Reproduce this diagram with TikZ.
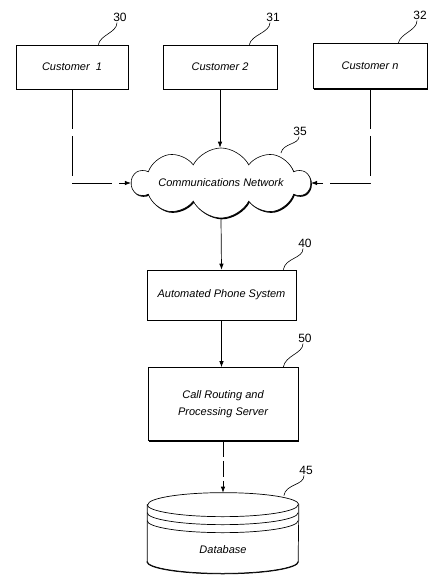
\documentclass[tikz,border=0pt]{standalone}
\usepackage{fontspec}
\newfontfamily\patentfont{Liberation Sans}
\usetikzlibrary{positioning,shapes.symbols,shadows,arrows.meta}
\tikzset{
    every path/.style = {line width=0.7pt},
    unit-box/.style = {draw, fill=white, line width=0.6pt, rectangle, inner sep=2pt, align=center, font=\patentfont\itshape\fontsize{11}{17}\selectfont, drop shadow={shadow xshift=1.3pt, shadow yshift=-1.3pt, fill=black, opacity=1}},
    net-cloud/.style = {draw, fill=white, line width=0.6pt, cloud, cloud puffs=10, cloud puff arc=125, cloud ignores aspect, minimum width=178pt, minimum height=70pt, drop shadow={shadow xshift=1pt, shadow yshift=-1.3pt, fill=black, opacity=1}},
    box-text/.style = {font=\patentfont\itshape\fontsize{11}{13}\selectfont},
    ref-label/.style = {font=\patentfont\fontsize{12}{13}\selectfont, inner sep=1pt},
    flow/.style = {line width=0.7pt, -{Latex[length=6pt,width=4.5pt]}},
    gap-flow/.style = {flow, dash pattern=on 40pt off 7pt},
    leader/.style = {line width=0.6pt},
}
\begin{document}
\begin{tikzpicture}[x=1pt, y=-1pt]
\useasboundingbox (0,0) rectangle (443,587);

% customers
\node [unit-box, minimum width=112pt, minimum height=44pt] (c1) at (72,67) {Customer\ \ 1};
\node [unit-box, minimum width=114pt, minimum height=44pt] (c2) at (220,67) {Customer 2};
\node [unit-box, minimum width=114pt, minimum height=45pt] (cn) at (370,66) {Customer n};

% network
\node [net-cloud] (cloud) at (221,183) {};
\node [box-text] (cloudname) at (cloud) {Communications Network};

% phone system, server
\node [unit-box, minimum width=149pt, minimum height=50pt] (aps) at (221.5,295) {Automated Phone System};
\node [unit-box, minimum width=150pt, minimum height=73pt] (server) at (223,404) {Call Routing and\\Processing Server};

% database
\node [minimum width=151pt, minimum height=80pt, inner sep=0pt] (db) at (223,533) {};
\draw [line width=1.8pt] ([yshift=12pt]db.south west) arc[start angle=180, end angle=360, x radius=75.5pt, y radius=12pt];
\draw [fill=white] ([yshift=-12pt]db.north west) -- ([yshift=12pt]db.south west)
    arc[start angle=180, end angle=360, x radius=75.5pt, y radius=12pt]
    -- ([yshift=-12pt]db.north east)
    arc[start angle=0, end angle=180, x radius=75.5pt, y radius=12pt] -- cycle;
\draw ([yshift=-12pt]db.north west) arc[start angle=180, end angle=360, x radius=75.5pt, y radius=12pt];
\draw ([yshift=-20pt]db.north west) arc[start angle=180, end angle=360, x radius=75.5pt, y radius=12pt];
\draw ([yshift=-28pt]db.north west) arc[start angle=180, end angle=360, x radius=75.5pt, y radius=12pt];
\node [box-text] (dbname) at ([yshift=24pt]db.south) {Database};

% reference numerals
\node [ref-label] (n30) at (120,17) {30};
\node [ref-label] (n31) at (273,17) {31};
\node [ref-label] (n32) at (420,15) {32};
\node [ref-label] (n35) at (300,131) {35};
\node [ref-label] (n40) at (305,243) {40};
\node [ref-label] (n50) at (305,338) {50};
\node [ref-label] (n45) at (306,470) {45};
\coordinate (cloudtip) at (281,153);

\draw [leader] ([xshift=-30pt]c1.north east) .. controls +(2,-10) and +(0,10) .. ([xshift=-3pt]n30.south);
\draw [leader] ([xshift=-28pt]c2.north east) .. controls +(2,-10) and +(0,10) .. ([xshift=-3pt]n31.south);
\draw [leader] ([xshift=-29pt]cn.north east) .. controls +(2,-10) and +(0,10) .. ([xshift=-3pt]n32.south);
\draw [leader] (cloudtip) .. controls +(2,-10) and +(0,8) .. ([xshift=-1pt]n35.south);
\draw [leader] ([xshift=-13pt]aps.north east) .. controls +(2,-12) and +(0,10) .. ([xshift=-2pt]n40.south);
\draw [leader] ([xshift=-15pt]server.north east) .. controls +(2,-12) and +(0,10) .. ([xshift=-2pt]n50.south);
\draw [leader] ([xshift=-15pt,yshift=-3pt]db.north east) .. controls +(2,-12) and +(0,10) .. ([xshift=-2pt]n45.south);

% connections
\draw [gap-flow] (c1.south) |- (cloud.west);
\draw [flow] (c2.south) -- (c2.south |- cloud.north);
\draw [gap-flow] (cn.south) |- (cloud.east);
\draw [flow] (cloud.south) -- (aps.north);
\draw [flow] (aps.south) -- (aps.south |- server.north);
\draw [gap-flow, dash pattern=on 16pt off 4pt] (server.south) -- (server.south |- db.north);
\end{tikzpicture}
\end{document}
